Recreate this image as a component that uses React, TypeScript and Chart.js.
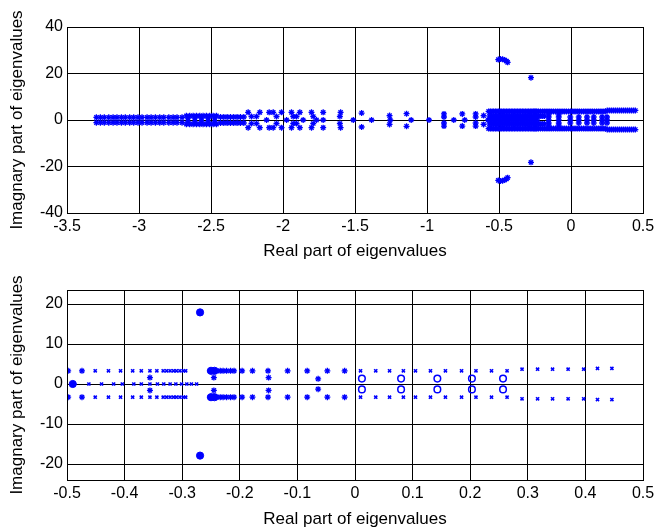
import React, { useEffect, useRef } from "react";
import { Chart, registerables } from "chart.js";
Chart.register(...registerables);

const BLUE = "#0000ff";
const TICK_FONT = { family: "'Liberation Sans', Arial, sans-serif", size: 16 };
const TITLE_FONT = { family: "'Liberation Sans', Arial, sans-serif", size: 17 };

// ---------- Top plot (full spectrum) : real parts with |imag| ----------
const topLeftBandRe = [-3.296, -3.268, -3.241, -3.21, -3.18, -3.153, -3.122, -3.095, -3.065, -3.037, -3.007, -2.979, -2.944, -2.916, -2.886, -2.856, -2.828, -2.793, -2.763, -2.736, -2.701];
const topLeftBandIm = 1.15;
const topMidBandRe = [-2.671, -2.648, -2.624, -2.601, -2.578, -2.555, -2.532, -2.509, -2.485, -2.462];
const topMidBandIm = 1.8;
const topMidBand2Re = [-2.66, -2.612, -2.566, -2.52, -2.474];
const topMidBand2Im = 0.8;
const topRightBandRe = [-2.434, -2.411, -2.388, -2.365, -2.342, -2.319, -2.296, -2.272];
const topRightBandIm = 1.3;

const topSparseRe = [-2.242, -2.219, -2.184, -2.161, -2.114, -2.096, -2.068, -2.045, -2.01, -1.975, -1.941, -1.929, -1.906, -1.883, -1.86, -1.802, -1.79, -1.767, -1.721, -1.721, -1.605, -1.6, -1.512, -1.454, -1.385, -1.26, -1.255, -1.142, -1.11, -0.986, -0.882, -0.882, -0.814, -0.755, -0.738, -0.662, -0.662, -0.607];
const topSparseIm = [3.3, 1.5, 1.5, 3.3, 0, 3.3, 3.3, 1.5, 3.3, 0, 3.3, 1.5, 1.5, 3.3, 0, 3.3, 1.5, 0, 3.3, 0, 1.5, 3.3, 0, 3.0, 0, 1.9, 0, 2.7, 0, 0, 2.6, 1.3, 0, 2.6, 0, 2.6, 1.3, 1.9];

const topHighRe = [-0.505, -0.49, -0.475, -0.46, -0.448, -0.44, -0.278];
const topHighIm = [26.0, 26.2, 26.1, 25.8, 25.3, 24.8, 18.2];

const topOuterRowRe = [-0.572, -0.56, -0.548, -0.537, -0.525, -0.514, -0.503, -0.492, -0.481, -0.47, -0.459, -0.448, -0.437, -0.426, -0.415, -0.404, -0.393, -0.382, -0.371, -0.36, -0.349, -0.338, -0.327, -0.316, -0.305, -0.294, -0.283, -0.272, -0.262, -0.254, -0.246, -0.238, -0.226, -0.212, -0.197, -0.182, -0.167, -0.152, -0.137, -0.122, -0.107, -0.092, -0.077, -0.062, -0.047, -0.032, -0.017, -0.002, 0.013, 0.028, 0.043, 0.058, 0.073, 0.088, 0.103, 0.118, 0.133, 0.148, 0.163, 0.178, 0.193, 0.208, 0.223, 0.238];
const topOuterRowIm = 3.7;
const topOuterRow2Re = [0.252, 0.266, 0.28, 0.294, 0.308, 0.322, 0.336, 0.35, 0.364, 0.378, 0.392, 0.406, 0.42, 0.434, 0.447];
const topOuterRow2Im = 4.1;
const topInnerRowRe = [-0.566, -0.552, -0.54, -0.527, -0.515, -0.501, -0.489, -0.476, -0.463, -0.451, -0.438, -0.426, -0.413, -0.4, -0.388, -0.375, -0.362, -0.35, -0.337, -0.325, -0.312, -0.3, -0.287, -0.275, -0.262, -0.25, -0.24, -0.23, -0.215, -0.2, -0.185];
const topInnerRowIm = 1.7;
const topZeroRowRe = [-0.575, -0.558, -0.541, -0.524, -0.507, -0.49, -0.473, -0.456, -0.439, -0.422, -0.405, -0.388, -0.371, -0.354, -0.337, -0.32, -0.303, -0.286, -0.269, -0.252, -0.236];
const topColumnRe = [-0.155, -0.085, -0.005, 0.054, 0.111, 0.158, 0.216, 0.25];
const topColumnIm = 1.3;
const topColumn2Re = [-0.155, -0.085];
const topColumn2Im = 2.2;

// ---------- Bottom plot (zoom near imaginary axis) ----------
const botStarRe = [-0.498, -0.474, -0.252, -0.246, -0.24, -0.234, -0.229, -0.223, -0.216, -0.21, -0.196, -0.178, -0.151, -0.117, -0.083, -0.048, -0.018];
const botStarIm = 3.3;
const botStar2Re = [-0.356, -0.245, -0.15, -0.064];
const botStar2Im = [1.6, 1.6, 1.6, 1.3];
const botCrossRe = [-0.451, -0.428, -0.407, -0.386, -0.371, -0.356, -0.344, -0.333, -0.327, -0.321, -0.315, -0.31, -0.304, -0.298, -0.294, 0.0096, 0.036, 0.06, 0.084, 0.105, 0.131, 0.157, 0.185, 0.21, 0.237, 0.264, 0.29, 0.317, 0.343, 0.37, 0.397, 0.421, 0.446];
const botCrossIm = [3.3, 3.3, 3.3, 3.3, 3.3, 3.3, 3.3, 3.3, 3.3, 3.3, 3.3, 3.3, 3.3, 3.3, 3.3, 3.3, 3.3, 3.3, 3.3, 3.3, 3.3, 3.3, 3.3, 3.3, 3.3, 3.3, 3.7, 3.7, 3.7, 3.7, 3.7, 3.9, 3.9];
const botCrossZeroRe = [-0.462, -0.44, -0.419, -0.404, -0.384, -0.371, -0.356, -0.343, -0.332, -0.321, -0.311, -0.301, -0.292, -0.284, -0.275];
const botCircleRe = [0.012, 0.08, 0.143, 0.203, 0.257];
const botCircleIm = 1.35;
const botDotRe = [-0.49, -0.269, -0.25, -0.244];
const botDotIm = [0, 17.9, 3.3, 3.3];

type P = { x: number; y: number };
function conj(re: number[], im: number | number[]): P[] {
  const out: P[] = [];
  re.forEach((r, i) => {
    const v = Array.isArray(im) ? im[i] : im;
    out.push({ x: r, y: v });
    if (v !== 0) out.push({ x: r, y: -v });
  });
  return out;
}

const boxPlugin = {
  id: "box",
  afterDraw(chart: any) {
    const { ctx, chartArea } = chart;
    ctx.save();
    ctx.strokeStyle = "#000";
    ctx.lineWidth = 1;
    ctx.strokeRect(
      Math.round(chartArea.left) + 0.5,
      Math.round(chartArea.top) + 0.5,
      Math.round(chartArea.right - chartArea.left),
      Math.round(chartArea.bottom - chartArea.top)
    );
    ctx.restore();
  },
};

const fmt = (v: any) => String(Math.round(Number(v) * 1000) / 1000);

function makeOptions(cfg: {
  xmin: number; xmax: number; xstep: number;
  ymin: number; ymax: number; ystep: number;
  padTop: number; xHeight: number; xTitlePad: number;
}) {
  return {
    animation: false,
    responsive: false,
    maintainAspectRatio: false,
    layout: { padding: { top: cfg.padTop, right: 27, left: 0, bottom: 0 } },
    plugins: { legend: { display: false }, tooltip: { enabled: false } },
    scales: {
      x: {
        type: "linear",
        min: cfg.xmin,
        max: cfg.xmax,
        ticks: { stepSize: cfg.xstep, includeBounds: false, color: "#000", font: TICK_FONT, padding: 4, maxRotation: 0, autoSkip: false, callback: fmt },
        grid: { color: "#000", lineWidth: 1, drawTicks: false },
        border: { color: "#000", width: 1 },
        title: { display: true, text: "Real part of eigenvalues", color: "#000", font: TITLE_FONT, padding: { top: 0, bottom: cfg.xTitlePad } },
        afterFit: (s: any) => { s.height = cfg.xHeight; },
      },
      y: {
        type: "linear",
        min: cfg.ymin,
        max: cfg.ymax,
        ticks: { stepSize: cfg.ystep, includeBounds: false, color: "#000", font: TICK_FONT, padding: 4, autoSkip: false, callback: fmt },
        grid: { color: "#000", lineWidth: 1, drawTicks: false },
        border: { color: "#000", width: 1 },
        title: { display: true, text: "Imagnary part of eigenvalues", color: "#000", font: TITLE_FONT, padding: { top: 7, bottom: 0 } },
        afterFit: (s: any) => { s.width = 67; },
      },
    },
  } as any;
}

function ds(data: P[], style: string, radius: number, bw: number, fill: boolean) {
  return {
    data,
    showLine: false,
    pointStyle: style,
    pointRadius: radius,
    pointBorderWidth: bw,
    pointBorderColor: BLUE,
    pointBackgroundColor: fill ? BLUE : "rgba(0,0,0,0)",
    pointHoverRadius: radius,
  };
}

export default function App() {
  const topRef = useRef<HTMLCanvasElement>(null);
  const botRef = useRef<HTMLCanvasElement>(null);

  useEffect(() => {
    const starR = 3, starBW = 1.3;
    const top = new Chart(topRef.current!, {
      type: "scatter",
      data: {
        datasets: [
          ds(conj(topLeftBandRe, topLeftBandIm), "star", starR, starBW, true),
          ds(conj(topMidBandRe, topMidBandIm), "star", starR, starBW, true),
          ds(conj(topMidBand2Re, topMidBand2Im), "star", starR, starBW, true),
          ds(conj(topRightBandRe, topRightBandIm), "star", starR, starBW, true),
          ds(conj(topSparseRe, topSparseIm), "star", starR, starBW, true),
          ds(conj(topHighRe, topHighIm), "star", starR, starBW, true),
          ds(conj(topOuterRowRe, topOuterRowIm), "star", starR, starBW, true),
          ds(conj(topOuterRow2Re, topOuterRow2Im), "star", starR, starBW, true),
          ds(conj(topInnerRowRe, topInnerRowIm), "star", starR, starBW, true),
          ds(conj(topZeroRowRe, 0), "star", starR, starBW, true),
          ds(conj(topColumnRe, topColumnIm), "star", starR, starBW, true),
          ds(conj(topColumnRe, 0), "star", starR, starBW, true),
          ds(conj(topColumn2Re, topColumn2Im), "star", starR, starBW, true),
        ],
      },
      options: makeOptions({ xmin: -3.5, xmax: 0.5, xstep: 0.5, ymin: -40, ymax: 40, ystep: 20, padTop: 27, xHeight: 52, xTitlePad: 3 }),
      plugins: [boxPlugin],
    });
    const bot = new Chart(botRef.current!, {
      type: "scatter",
      data: {
        datasets: [
          ds(conj(botStarRe, botStarIm), "star", starR, starBW, true),
          ds(conj(botStar2Re, botStar2Im), "star", starR, starBW, true),
          ds(conj(botCrossRe, botCrossIm), "crossRot", 2.2, 1.6, false),
          ds(conj(botCrossZeroRe, 0), "crossRot", 2.2, 1.6, false),
          ds(conj(botCircleRe, botCircleIm), "circle", 3.3, 1.5, false),
          ds(conj(botDotRe, botDotIm), "circle", 3.6, 1, true),
        ],
      },
      options: makeOptions({ xmin: -0.5, xmax: 0.5, xstep: 0.1, ymin: -24, ymax: 23.5, ystep: 10, padTop: 25, xHeight: 50, xTitlePad: 0 }),
      plugins: [boxPlugin],
    });
    return () => {
      top.destroy();
      bot.destroy();
    };
  }, []);

  return (
    <div style={{ position: "absolute", left: 0, top: 0, width: 670, height: 530, background: "#fff" }}>
      <canvas ref={topRef} width={670} height={265} style={{ position: "absolute", left: 0, top: 0, width: 670, height: 265 }} />
      <canvas ref={botRef} width={670} height={265} style={{ position: "absolute", left: 0, top: 265, width: 670, height: 265 }} />
    </div>
  );
}
